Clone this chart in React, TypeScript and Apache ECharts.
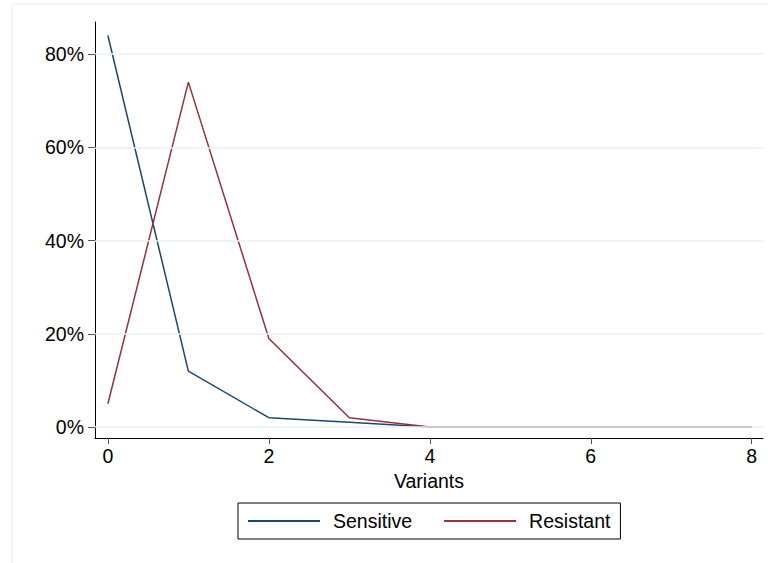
import React, { useEffect, useRef } from "react";
import * as echarts from "echarts";

const variants = [0, 1, 2, 3, 4, 5, 6, 7, 8];
const sensitive = [84, 12, 2, 1, 0, 0, 0, 0, 0];
const resistant = [5, 74, 19, 2, 0, 0, 0, 0, 0];
const xTicks = [0, 2, 4, 6, 8];
const yTicks = [0, 20, 40, 60, 80];

const FONT = "Liberation Sans, Arial, Helvetica, sans-serif";
const FS = 19.5;

export default function App() {
  const ref = useRef<HTMLDivElement>(null);
  useEffect(() => {
    const chart = echarts.init(ref.current!, null, { renderer: "svg" });
    chart.setOption({
      animation: false,
      backgroundColor: "#ffffff",
      textStyle: { fontFamily: FONT },
      graphic: [
        {
          type: "rect",
          shape: { x: 12, y: 4, width: 770, height: 580 },
          style: { fill: "none", stroke: "#eef0f2", lineWidth: 1 },
          z: -10,
        },
      ],
      grid: { left: 95, top: 22, right: 5, bottom: 125, containLabel: false },
      xAxis: {
        type: "value",
        min: -0.16,
        max: 8.14,
        name: "Variants",
        nameLocation: "middle",
        nameGap: 33,
        nameTextStyle: { color: "#000", fontSize: FS, fontFamily: FONT },
        axisLine: { show: true, onZero: false, lineStyle: { color: "#000", width: 1 } },
        axisTick: { show: true, length: 6, lineStyle: { color: "#555" }, customValues: xTicks },
        axisLabel: { color: "#000", fontSize: FS, margin: 8, customValues: xTicks, fontFamily: FONT },
        splitLine: { show: false },
      },
      yAxis: {
        type: "value",
        min: -2.36,
        max: 86.9,
        axisLine: { show: true, onZero: false, lineStyle: { color: "#000", width: 1 } },
        axisTick: { show: true, length: 7, lineStyle: { color: "#555" }, customValues: yTicks },
        axisLabel: {
          color: "#000",
          fontSize: FS,
          margin: 11,
          customValues: yTicks,
          formatter: (v: number) => `${v}%`,
          fontFamily: FONT,
        },
        splitLine: { show: false },
      },
      legend: {
        left: 238,
        top: 503,
        width: 383,
        height: 36,
        padding: [8, 10, 8, 10],
        borderColor: "#000",
        borderWidth: 1,
        icon: "rect",
        itemWidth: 72,
        itemHeight: 2,
        itemGap: 32,
        textStyle: { color: "#000", fontSize: FS, padding: [0, 0, 0, 8], fontFamily: FONT },
        data: ["Sensitive", "Resistant"],
      },
      series: [
        {
          name: "grid",
          type: "line",
          data: [],
          silent: true,
          z: 1,
          markLine: {
            silent: true,
            symbol: "none",
            label: { show: false },
            lineStyle: { color: "#eaf2f3", type: "solid", width: 1.5 },
            data: yTicks.map((v) => ({ yAxis: v })),
          },
        },
        {
          name: "Sensitive",
          type: "line",
          data: variants.map((x, i) => [x, sensitive[i]]),
          showSymbol: false,
          lineStyle: { color: "#1a476f", width: 1.5 },
          itemStyle: { color: "#1a476f" },
          z: 3,
        },
        {
          name: "Resistant",
          type: "line",
          data: variants.map((x, i) => [x, resistant[i]]),
          showSymbol: false,
          lineStyle: { color: "#90353b", width: 1.5 },
          itemStyle: { color: "#90353b" },
          z: 3,
        },
      ],
    });
    return () => chart.dispose();
  }, []);
  return <div ref={ref} style={{ width: 768, height: 563, position: "absolute", left: 0, top: 0 }} />;
}
